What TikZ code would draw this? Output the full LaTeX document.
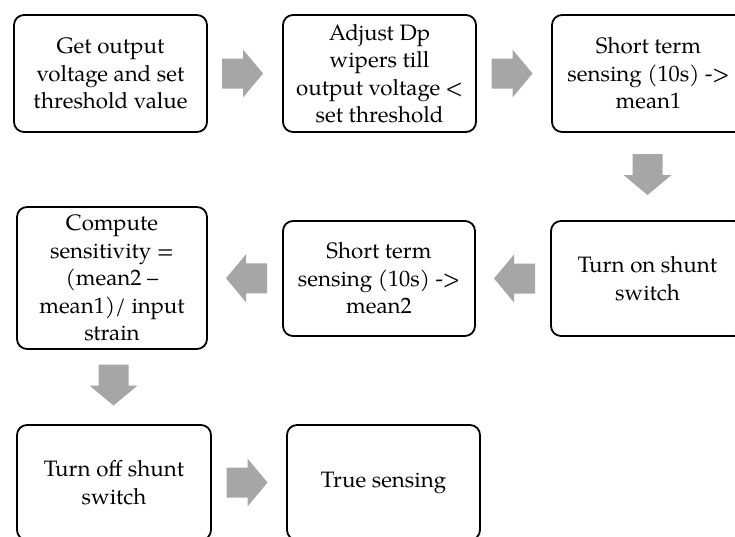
\documentclass[tikz,border=0pt]{standalone}
\usepackage{fontspec}
\setmainfont{TeX Gyre Pagella}
\usetikzlibrary{calc}
\definecolor{arrowgray}{RGB}{166,166,166}
\tikzset{
  stepbox/.style={draw=black, line width=1.8pt, rounded corners=10pt, fill=white,
    minimum width=193pt, minimum height=117pt, inner sep=1pt, align=center,
    font=\fontsize{22.3}{27.5}\selectfont},
  pics/fatarrow/.style={code={
    \fill[arrowgray] (-20.5,-15) -- (0.5,-15) -- (0.5,-24) -- (20.5,0)
      -- (0.5,24) -- (0.5,15) -- (-20.5,15) -- cycle;}}
}
\begin{document}
\begin{tikzpicture}[x=1pt, y=-1pt]
\useasboundingbox[fill=white] (0,0) rectangle (735,536);

% first row
\node[stepbox] (get)   at (110.5,73.5) {Get output\\voltage and set\\threshold value};
\node[stepbox] (adj)   at (379.5,73.5) {Adjust Dp\\wipers till\\output voltage <\\set threshold};
\node[stepbox] (mean1) at (648.5,73.5) {Short term\\sensing (10s) ->\\mean1};

% second row
\node[stepbox, minimum height=115pt] (shon)  at (647.5,278.5) {Turn on shunt\\switch};
\node[stepbox, minimum height=115pt, minimum width=192pt] (mean2) at (379,278.5) {Short term\\sensing (10s) ->\\mean2};
\node[stepbox, minimum height=142pt, minimum width=190pt] (sens)  at (112,278) {Compute\\sensitivity =\\(mean2 –\\mean1)/ input\\strain};

% third row
\node[stepbox, minimum height=115pt, minimum width=194pt] (shoff) at (114,482.5) {Turn off shunt\\switch};
\node[stepbox, minimum height=115pt] (truesens) at (383.5,482.5) {True sensing};

% block arrows between consecutive steps
\pic at ($(get.east)!0.5!(adj.west)+(-2.5,0)$) {fatarrow};
\pic at ($(adj.east)!0.5!(mean1.west)+(-2,0)$) {fatarrow};
\pic[rotate=-90] at ($(mean1.south)!0.5!(shon.north)+(-0.5,-2)$) {fatarrow};
\pic[rotate=180] at ($(shon.west)!0.5!(mean2.east)+(1.5,0)$) {fatarrow};
\pic[rotate=180] at ($(mean2.west)!0.5!(sens.east)+(1.5,0)$) {fatarrow};
\pic[rotate=-90] at ($(sens.south)!0.5!(shoff.north)+(0.5,-2)$) {fatarrow};
\pic at ($(shoff.east)!0.5!(truesens.west)+(-2,0)$) {fatarrow};
\end{tikzpicture}
\end{document}
